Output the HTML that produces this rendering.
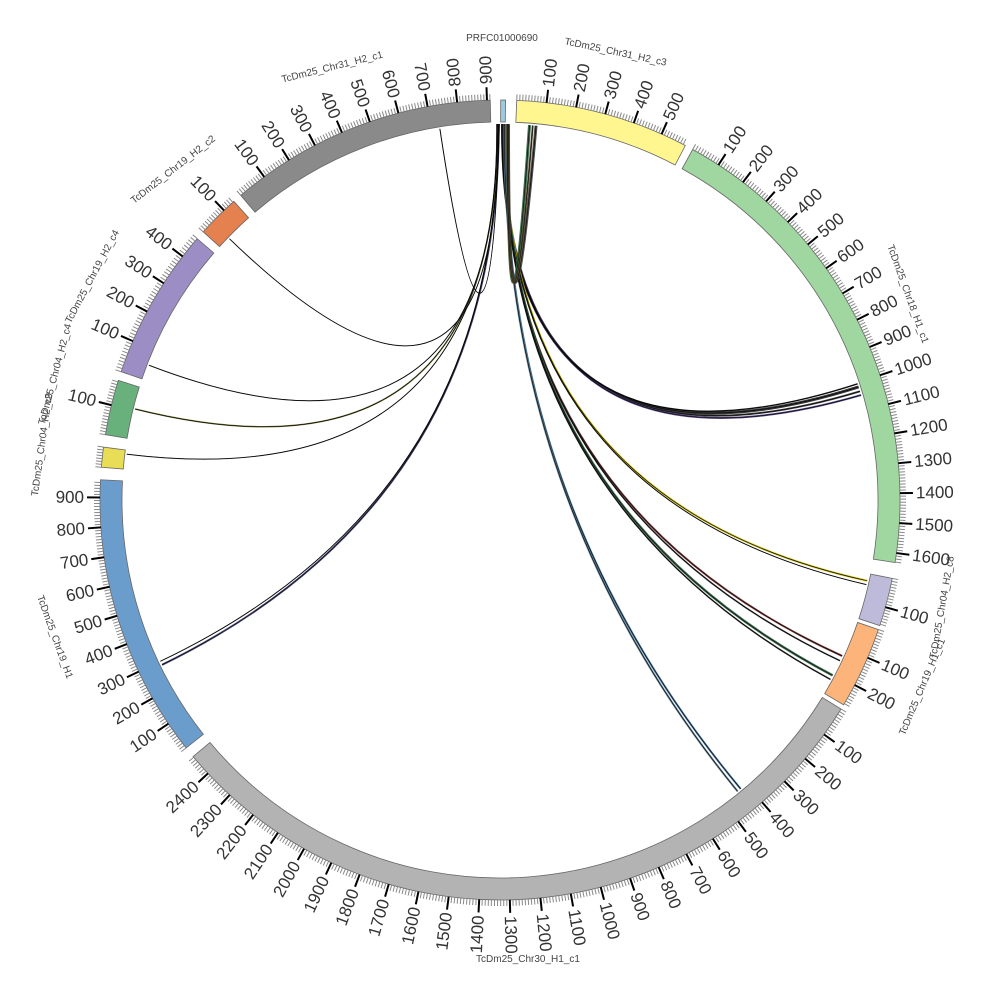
<!DOCTYPE html>
<html><head><meta charset="utf-8"><style>
html,body{margin:0;padding:0;background:#fff;}
svg{display:block;font-family:"Liberation Sans","DejaVu Sans",sans-serif;}
</style></head><body>
<svg id="s" width="1000" height="1000" viewBox="0 0 1000 1000" xmlns="http://www.w3.org/2000/svg"></svg>
<script>
const cx=500,cy=500,Ro=400,Ri=378;
const segs=[
["PRFC01000690",0.1,0.8,20,"#9ecae1",0],
["c3",2.4,27.6,588,"#fff68f",1],
["chr18",28.8,99.0,1632,"#a0d6a0",1],
["lav",101.3,108.3,165,"#bebada",1],
["or",108.9,120.8,275,"#fdb47a",1],
["chr30",121.5,230.1,2473,"#b3b3b3",1],
["blue",231.7,272.9,959,"#6b9dcc",1],
["ysm",274.7,277.6,70,"#e9dd55",1],
["gsm",279.4,287.4,185,"#68b07c",1],
["pur",288.7,310.8,470,"#9d8dc5",1],
["osm",312.1,318.3,145,"#e5804f",1],
["c1",319.6,358.6,911,"#8a8a8a",1]];
function P(a,r){const t=a*Math.PI/180;return[cx+r*Math.sin(t),cy-r*Math.cos(t)];}
let h='';
for(const s of segs){
 const [n,a0,a1,len,col,tk]=s;
 const p1=P(a0,Ro),p2=P(a1,Ro),p3=P(a1,Ri),p4=P(a0,Ri);const lg=(a1-a0)>180?1:0;
 h+=`<path d="M${p1} A${Ro},${Ro} 0 ${lg} 1 ${p2} L${p3} A${Ri},${Ri} 0 ${lg} 0 ${p4}Z" fill="${col}" stroke="#666" stroke-width="0.8"/>`;
 if(!tk)continue;
 const k=(a1-a0)/len;
 for(let u=0;u<=len;u+=10){const a=a0+u*k;
  if(u%100==0&&u>0){const q=P(a,Ro),w=P(a,Ro+13);h+=`<line x1="${q[0]}" y1="${q[1]}" x2="${w[0]}" y2="${w[1]}" stroke="#000" stroke-width="2"/>`;
   const L=P(a,Ro+16);let rot=a-90,anc='start';if(a>180&&a<352){rot=a+90;anc='end';}
   h+=`<text x="${L[0]}" y="${L[1]}" transform="rotate(${rot} ${L[0]} ${L[1]})" text-anchor="${anc}" dominant-baseline="central" font-size="17" fill="#333">${u}</text>`;}
  else{const q=P(a,Ro),w=P(a,Ro+6);h+=`<line x1="${q[0]}" y1="${q[1]}" x2="${w[0]}" y2="${w[1]}" stroke="#888" stroke-width="1"/>`;}
 }
}
const links=[
[0.4,72.5,"#222",3],[0.5,73.2,"#333",2],[0.6,73.8,"#4a3a7a",2],[0.3,72,"#111",1.5],
[0.7,102.4,"#c8b800",2],[0.5,103,"#222",1],
[0.6,114.5,"#6b2a2a",2],[0.7,115.3,"#222",1.5],[0.8,117.8,"#2e5e3e",2.5],[0.6,118.5,"#222",1.5],
[0.8,140.2,"#3a6a9a",2],[0.7,140.8,"#5a7a8a",2],
[359.8,244,"#3a3a6a",2],[359.7,244.6,"#222",1],
[359.6,277,"#222",1],[359.6,284,"#6a6a2a",1.5],[359.5,291,"#222",1],
[359.7,314,"#222",1],[359.9,350.8,"#111",1],
[1.2,4.5,"#2a5a3a",3],[1.3,5.5,"#3a3a3a",3],[1.1,5.0,"#5a4a2a",2]];
for(const [a,b,c,w] of links){const p=P(a,Ri-2),q=P(b,Ri-2);
 let ctl=[cx,cy];
 if(Math.abs(a-b)<10){ctl=[cx+8,cy-60];}
 if(b>340){ctl=[cx-10,cy-40];}
 h+=`<path d="M${p} Q${ctl} ${q}" fill="none" stroke="${c}" stroke-width="${w}" opacity="0.9"/>`;
 h+=`<path d="M${p} Q${ctl} ${q}" fill="none" stroke="#000" stroke-width="0.6"/>`;}
function nm(t,x,y,r){h+=`<text x="${x}" y="${y}" transform="rotate(${r} ${x} ${y})" text-anchor="middle" font-size="10" fill="#444">${t}</text>`;}
nm("PRFC01000690",502,41,0);
nm("TcDm25_Chr31_H2_c3",615,55,12);
nm("TcDm25_Chr31_H2_c1",333,70,-14);
nm("TcDm25_Chr19_H2_c2",175,172,-38);
nm("TcDm25_Chr19_H2_c4",95,278,-62);
nm("TcDm25_Chr04_H2_c4",58,375,-75);
nm("TcDm25_Chr04_H2_c9",45,445,-82);
nm("TcDm25_Chr19_H1",52,638,70);
nm("TcDm25_Chr18_H1_c1",905,295,70);
nm("TcDm25_Chr04_H2_c8",945,608,-80);
nm("TcDm25_Chr19_H1_c1",925,688,-67);
nm("TcDm25_Chr30_H1_c1",528,962,0);
document.getElementById('s').innerHTML=h;
</script>
</body></html>
